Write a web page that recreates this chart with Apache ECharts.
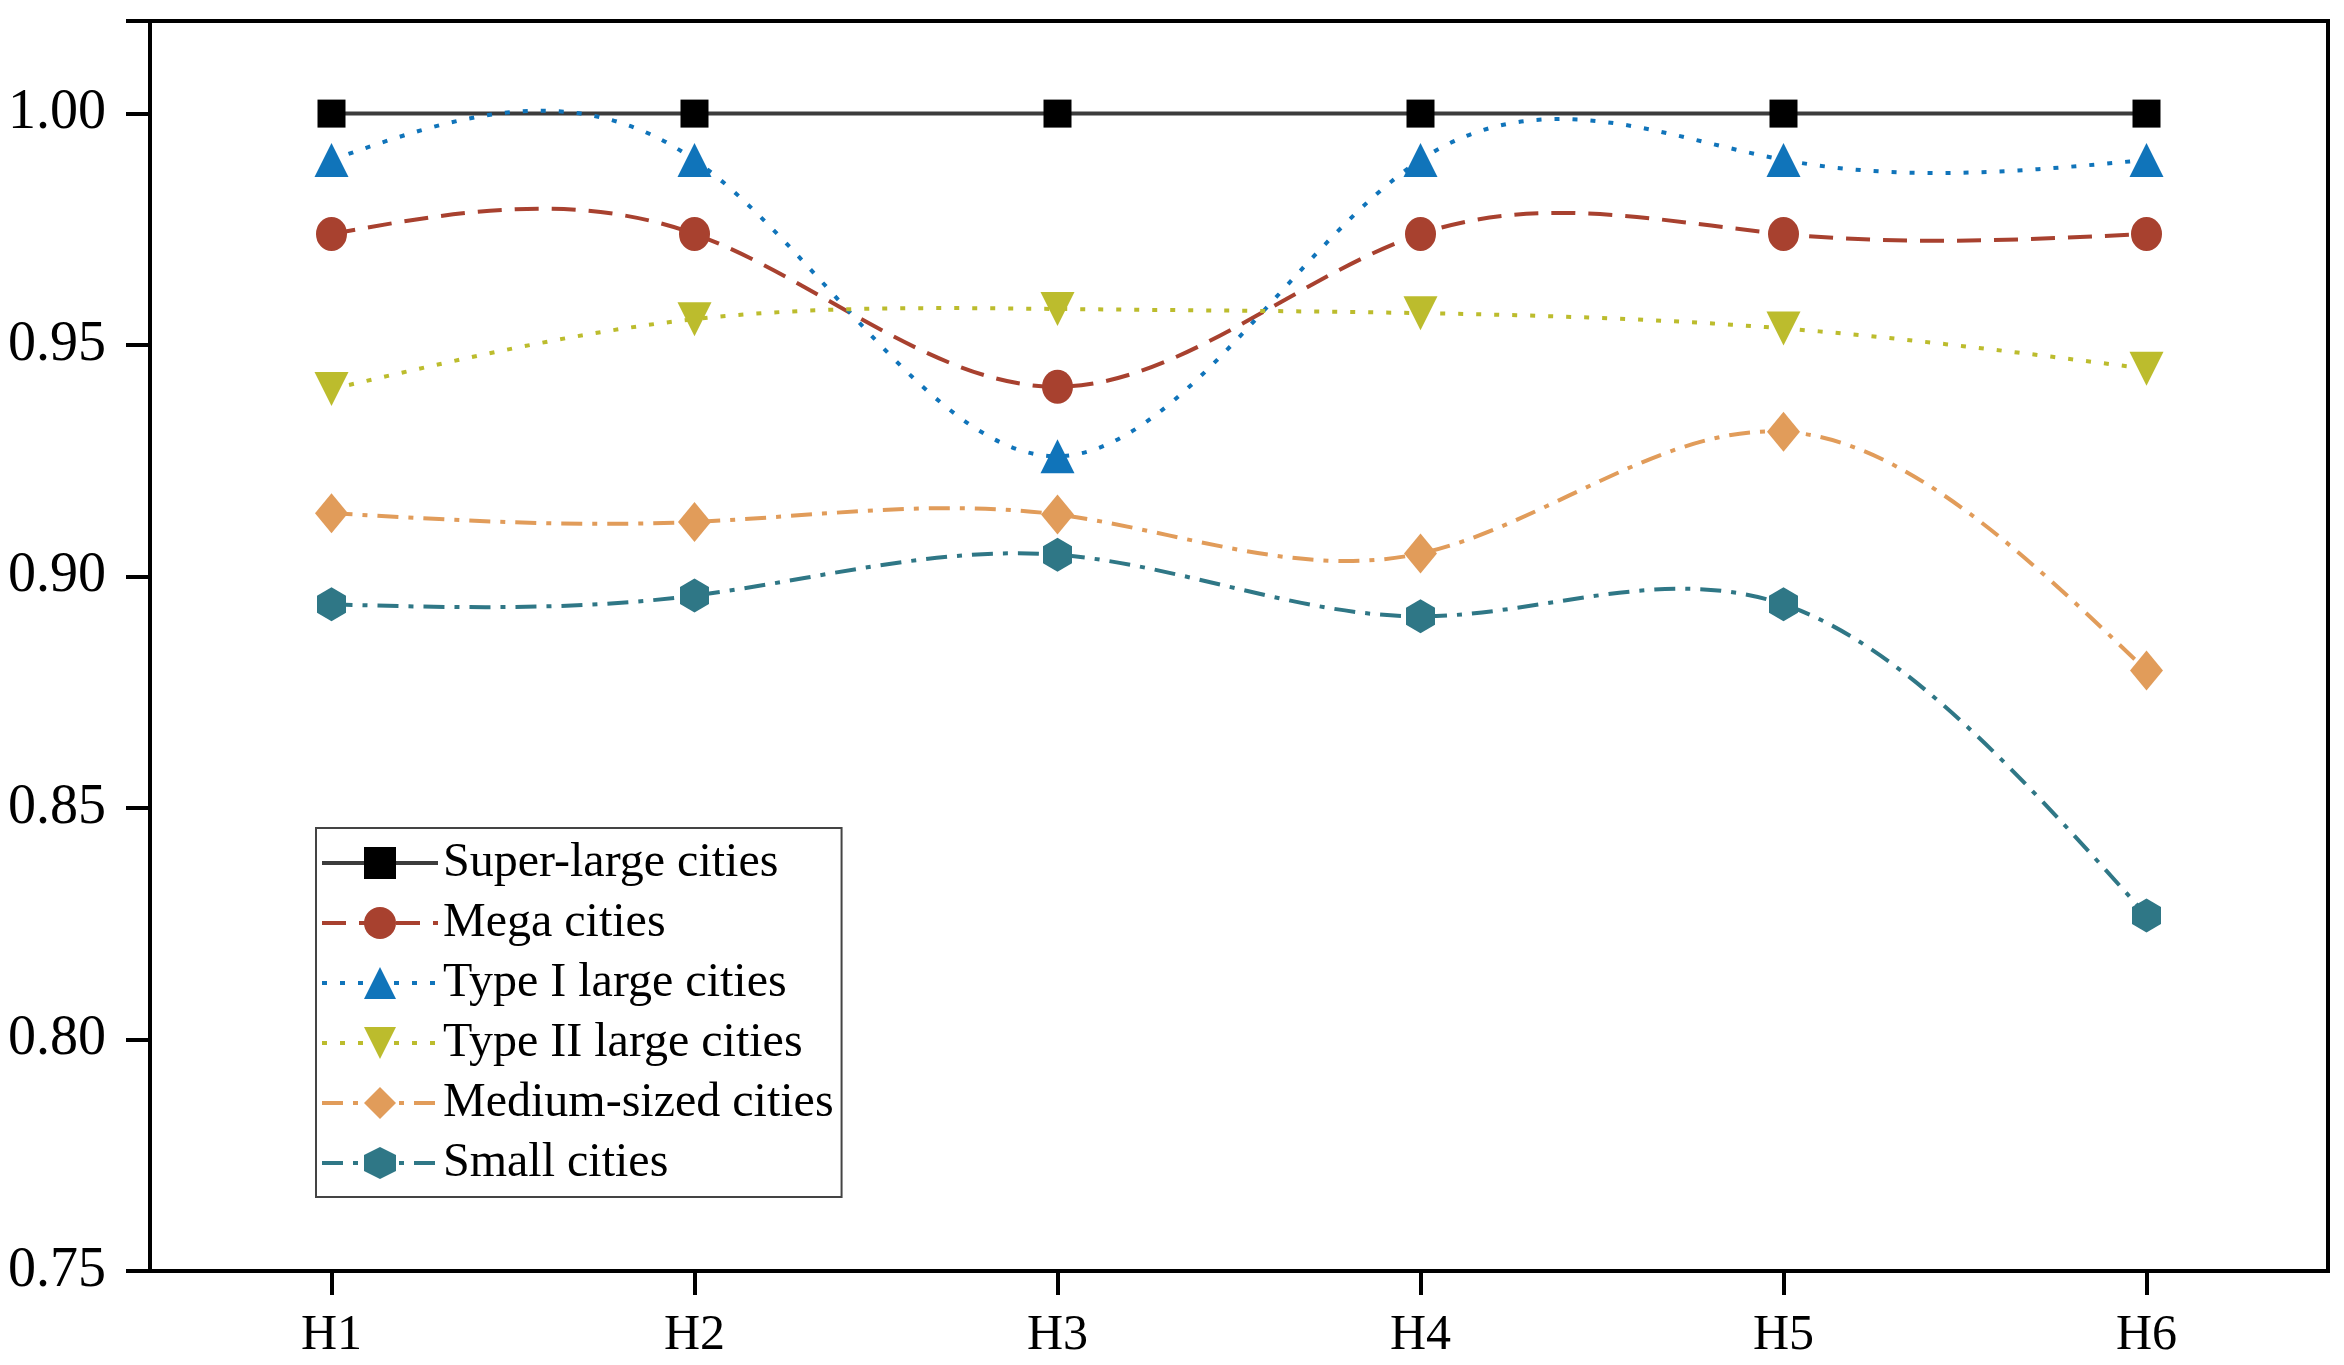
<!DOCTYPE html>
<html>
<head>
<meta charset="utf-8">
<script src="https://cdn.jsdelivr.net/npm/echarts@6/dist/echarts.min.js"></script>
<style>
html,body{margin:0;padding:0;background:#fff;}
#chart{width:2344px;height:1365px;}
</style>
</head>
<body>
<div id="chart"></div>
<script>
const categories = ['H1','H2','H3','H4','H5','H6'];
const seriesNames = ['Super-large cities','Mega cities','Type I large cities','Type II large cities','Medium-sized cities','Small cities'];
const superLarge = [1.000, 1.000, 1.000, 1.000, 1.000, 1.000];
const mega       = [0.974, 0.974, 0.941, 0.974, 0.974, 0.974];
const typeI      = [0.990, 0.990, 0.926, 0.990, 0.990, 0.990];
const typeII     = [0.9405, 0.9556, 0.9578, 0.9569, 0.9536, 0.9449];
const medium     = [0.9137, 0.9118, 0.9134, 0.905, 0.9313, 0.8797];
const small      = [0.894, 0.8959, 0.9047, 0.8914, 0.894, 0.8268];
const yTicks = [0.75, 0.80, 0.85, 0.90, 0.95, 1.00];

const hexagon = 'path://M0,-1 L0.866,-0.5 L0.866,0.5 L0,1 L-0.866,0.5 L-0.866,-0.5 Z';
const font = 'Liberation Serif';

// second derivatives of a natural cubic spline through equally spaced values
function splineM(y) {
  const n = y.length;
  const M = new Array(n).fill(0);
  if (n < 3) return M;
  const m = n - 2;
  const a = [], b = [], c = [], d = [];
  for (let k = 0; k < m; k++) {
    const i = k + 1;
    a.push(1); b.push(4); c.push(1);
    d.push(6 * (y[i + 1] - 2 * y[i] + y[i - 1]));
  }
  for (let k = 1; k < m; k++) {
    const w = a[k] / b[k - 1];
    b[k] -= w * c[k - 1];
    d[k] -= w * d[k - 1];
  }
  const x = new Array(m);
  x[m - 1] = d[m - 1] / b[m - 1];
  for (let k = m - 2; k >= 0; k--) x[k] = (d[k] - c[k] * x[k + 1]) / b[k];
  for (let k = 0; k < m; k++) M[k + 1] = x[k];
  return M;
}

function curve(name, values, color, dash, width) {
  return {
    name: name + ' curve', type: 'custom', silent: true, z: 2,
    data: [[0, values[0]]],
    renderItem: function (params, api) {
      const n = values.length;
      const M = splineM(values);
      const pts = values.map((v, i) => api.coord([i, v]));
      let p = 'M' + pts[0][0] + ' ' + pts[0][1];
      for (let i = 0; i < n - 1; i++) {
        const dy = values[i + 1] - values[i];
        const d0 = dy - (2 * M[i] + M[i + 1]) / 6;
        const d1 = dy + (M[i] + 2 * M[i + 1]) / 6;
        const x0 = pts[i][0], x1 = pts[i + 1][0];
        const c1x = x0 + (x1 - x0) / 3, c2x = x1 - (x1 - x0) / 3;
        const c1y = api.coord([i, values[i] + d0 / 3])[1];
        const c2y = api.coord([i + 1, values[i + 1] - d1 / 3])[1];
        p += ' C' + c1x + ' ' + c1y + ' ' + c2x + ' ' + c2y + ' ' + x1 + ' ' + pts[i + 1][1];
      }
      return {
        type: 'path',
        shape: { pathData: p },
        style: { fill: null, stroke: color, lineWidth: width, lineDash: dash, lineCap: 'butt' }
      };
    }
  };
}

function markers(name, data, color, symbol, size, rotate) {
  return {
    name: name, type: 'line', data: data,
    symbol: symbol, symbolSize: size, symbolRotate: rotate || 0,
    showSymbol: true,
    itemStyle: { color: color },
    lineStyle: { opacity: 0, width: 0 },
    z: 3
  };
}

const styles = [
  { color: '#000000', line: '#3c3c3c', dash: 'solid', dashArr: null, symbol: 'rect', size: 28 },
  { color: '#a8412f', line: '#a8412f', dash: [24, 13], dashArr: [24, 13], symbol: 'circle', size: [31, 34] },
  { color: '#1074ba', line: '#1074ba', dash: [5, 13], dashArr: [5, 13], symbol: 'triangle', size: 34 },
  { color: '#bcbc2d', line: '#bcbc2d', dash: [5, 13], dashArr: [5, 13], symbol: 'triangle', size: 34, rot: 180 },
  { color: '#e19c5a', line: '#e19c5a', dash: [21, 10, 5, 10], dashArr: [21, 10, 5, 10], symbol: 'diamond', size: [33, 40] },
  { color: '#2f7786', line: '#2f7786', dash: [21, 10, 5, 10], dashArr: [21, 10, 5, 10], symbol: hexagon, size: [29, 34] }
];
const allValues = [superLarge, mega, typeI, typeII, medium, small];

const series = [];
allValues.forEach((vals, k) => {
  const s = styles[k];
  series.push(curve(seriesNames[k], vals, s.line, s.dashArr, 4));
});
allValues.forEach((vals, k) => {
  const s = styles[k];
  series.push(markers(seriesNames[k], vals, s.color, s.symbol, s.size, s.rot));
});

const legendData = seriesNames.map((nm, k) => ({
  name: nm,
  lineStyle: { opacity: 1, color: styles[k].line, width: 4, type: styles[k].dash }
}));

const chart = echarts.init(document.getElementById('chart'));
chart.setOption({
  backgroundColor: '#fff',
  animation: false,
  grid: { left: 150, right: 16, top: 21, bottom: 94, show: true, borderColor: '#000', borderWidth: 4, backgroundColor: 'transparent' },
  legend: {
    orient: 'vertical', left: 316, top: 828,
    padding: [10, 8, 9, 4],
    itemWidth: 116, itemHeight: 40, itemGap: 10,
    borderColor: '#444', borderWidth: 2,
    backgroundColor: '#fff',
    textStyle: { fontFamily: font, fontSize: 48, color: '#000', lineHeight: 50 },
    data: legendData
  },
  xAxis: {
    type: 'category', data: categories, boundaryGap: true,
    axisLine: { lineStyle: { color: '#000', width: 4 } },
    axisTick: { show: true, alignWithLabel: true, length: 24, lineStyle: { color: '#000', width: 4 } },
    axisLabel: { fontFamily: font, fontSize: 50, color: '#000', margin: 40 },
    splitLine: { show: false }
  },
  yAxis: {
    type: 'value', min: 0.75, max: 1.02, interval: 0.05,
    axisLine: { show: true, lineStyle: { color: '#000', width: 4 } },
    axisTick: { show: true, length: 24, lineStyle: { color: '#000', width: 4 } },
    axisLabel: {
      fontFamily: font, fontSize: 56, color: '#000', margin: 44,
      formatter: function (v) { return yTicks.some(t => Math.abs(t - v) < 1e-9) ? v.toFixed(2) : ''; }
    },
    splitLine: { show: false }
  },
  series: series
});
</script>
</body>
</html>
